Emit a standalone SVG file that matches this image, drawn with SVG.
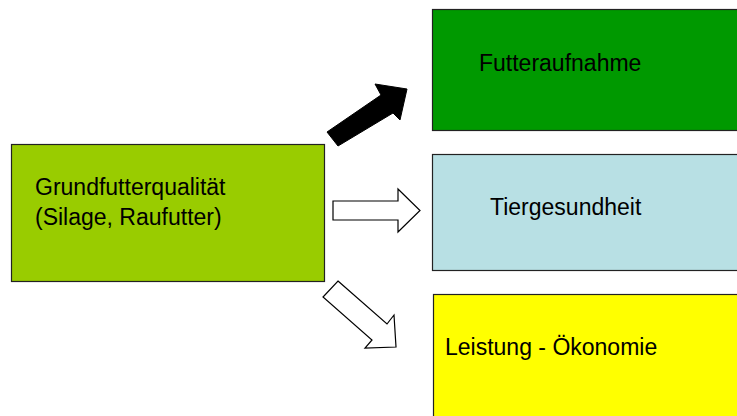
<svg xmlns="http://www.w3.org/2000/svg" width="737" height="416" viewBox="0 0 737 416">
<style>
.box{stroke:#222;stroke-width:1.2}
.t{font-family:"Liberation Sans",Arial,sans-serif;font-size:23px;fill:#000}
.wa{fill:#fff;stroke:#000;stroke-width:1.2;stroke-linejoin:miter}
.ba{fill:#000;stroke:#000;stroke-width:1}
</style>
<rect width="737" height="416" fill="#fff"/>
<g id="grundfutter">
<rect class="box" x="11.5" y="144.5" width="313" height="137" fill="#99CC00"/>
<text class="t" x="35" y="195">Grundfutterqualität</text>
<text class="t" x="35" y="225">(Silage, Raufutter)</text>
</g>
<g id="futteraufnahme">
<rect class="box" x="432.5" y="9.5" width="310" height="121" fill="#009900"/>
<text class="t" x="479" y="71">Futteraufnahme</text>
</g>
<g id="tiergesundheit">
<rect class="box" x="432.5" y="154.5" width="310" height="116" fill="#B8E0E4"/>
<text class="t" x="490" y="215">Tiergesundheit</text>
</g>
<g id="leistung">
<rect class="box" x="433.5" y="294.5" width="310" height="130" fill="#FFFF00"/>
<text class="t" x="445" y="355">Leistung - Ökonomie</text>
</g>
<g id="connectors">
<polygon class="ba" points="327,132 381,95 375,84 407,89 400,120 393,113 338,146"/>
<polygon class="wa" points="333,201 398,201 398,189 420,210.5 398,232 398,220 333,220"/>
<polygon class="wa" points="338,281 387,324 394,315 396,347 365,348 372,340 323,297"/>
</g>
</svg>
